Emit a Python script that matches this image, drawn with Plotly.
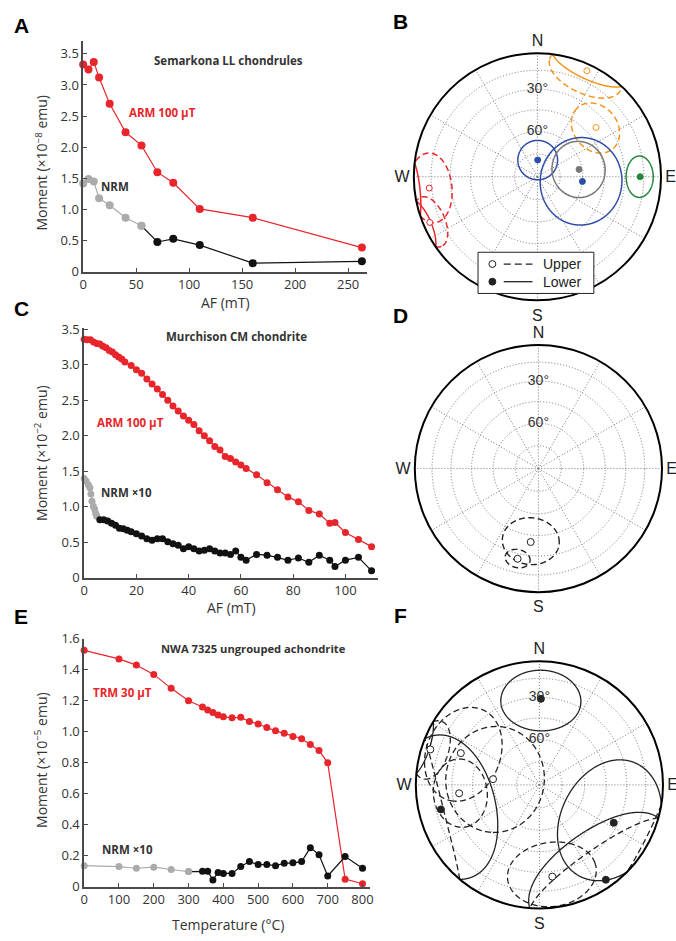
import numpy as np
import plotly.graph_objects as go

W, H = 676, 941
RED = '#E8252B'
GRAY = '#ABABAB'
BLACK = '#111111'
AXC = '#4a4a4a'
TXT = '#333333'
SANS = 'Open Sans'
HELV = 'Liberation Sans'

# ---------------- data ----------------
# A  Semarkona LL chondrules (AF step, mT ; moment x1e-8 emu)
a_af = [0, 5, 10, 15, 25, 40, 55, 70, 85, 110, 160, 263]
a_arm = [3.33, 3.25, 3.37, 3.12, 2.70, 2.24, 2.03, 1.60, 1.43, 1.01, 0.87, 0.39]
a_nrm = [1.42, 1.49, 1.45, 1.18, 1.07, 0.87, 0.74, 0.48, 0.53, 0.43, 0.14, 0.17]
a_nrm_lc = 7  # number of low-coercivity (gray) NRM steps

# C  Murchison CM chondrite (AF step, mT ; moment x1e-2 emu)
c_af_arm = [0, 1.2, 2.4, 3.6, 4.8, 6, 7.2, 8.4, 9.6, 10.8, 12, 13.2, 14.4, 15.6,
            18, 20, 22, 24, 26, 28, 30, 32, 34, 36, 38, 40, 42, 44, 46, 48, 50, 52, 54, 56, 58, 60,
            62, 66, 70, 74, 78, 82, 86, 90, 94, 96, 100, 105, 110]
c_arm = [3.36, 3.35, 3.35, 3.32, 3.30, 3.29, 3.26, 3.24, 3.20, 3.18, 3.14, 3.11, 3.08, 3.04,
         2.99, 2.93, 2.88, 2.80, 2.73, 2.66, 2.58, 2.50, 2.42, 2.35, 2.28, 2.22, 2.16, 2.07, 2.00,
         1.93, 1.85, 1.80, 1.71, 1.68, 1.63, 1.59,
         1.54, 1.45, 1.34, 1.24, 1.14, 1.07, 0.95, 0.90, 0.77, 0.78, 0.64, 0.54, 0.44]
c_af_nrm = [0, 0.8, 1.6, 2.2, 2.6, 3.0, 3.5, 4.0, 4.4, 4.8,
            6, 7.5, 9, 10.5, 12, 13.5, 15, 16.5,
            18, 20, 22, 24, 26, 28, 30, 32, 34, 36, 38, 40, 42, 44, 46, 48, 50, 52, 54, 56, 58, 60,
            62, 66, 70, 74, 78, 82, 86, 90, 94, 96, 100, 105, 110]
c_nrm = [1.40, 1.36, 1.31, 1.27, 1.18, 1.08, 1.01, 0.97, 0.91, 0.87,
         0.82, 0.82, 0.80, 0.77, 0.74, 0.70, 0.69, 0.67,
         0.65, 0.62, 0.59, 0.55, 0.53, 0.55, 0.55, 0.51, 0.48, 0.46, 0.41, 0.44, 0.41, 0.38, 0.39,
         0.41, 0.38, 0.35, 0.35, 0.33, 0.38, 0.29,
         0.25, 0.33, 0.32, 0.29, 0.25, 0.28, 0.22, 0.32, 0.25, 0.16, 0.25, 0.29, 0.10]
c_nrm_lc = 10

# E  NWA 7325 (thermal step, degC ; moment x1e-5 emu)
e_t_trm = [0, 100, 150, 200, 250, 300, 340, 355, 370, 385, 400, 425, 450, 475, 500, 525,
           550, 575, 600, 625, 650, 675, 700, 750, 800]
e_trm = [1.525, 1.47, 1.43, 1.37, 1.28, 1.20, 1.16, 1.14, 1.125, 1.108, 1.097, 1.09, 1.093,
         1.066, 1.05, 1.028, 1.006, 0.99, 0.97, 0.955, 0.918, 0.88, 0.80, 0.05, 0.02]
e_t_nrm = [0, 100, 150, 200, 250, 300, 340, 355, 370, 385, 400, 425, 450, 475, 500, 525,
           550, 575, 600, 625, 650, 675, 700, 750, 800]
e_nrm = [0.137, 0.131, 0.12, 0.127, 0.112, 0.099, 0.10, 0.10, 0.045, 0.093, 0.087, 0.087,
         0.131, 0.163, 0.144, 0.144, 0.137, 0.152, 0.155, 0.163, 0.253, 0.207, 0.07, 0.196, 0.12]
e_nrm_lc = 6

# B  stereonet: declination, inclination (neg = upper), alpha95, colour
b_dec = [25, 50, 1, 96, 80, 90, 264, 247]
b_inc = [-6, -38, 79, 60, 62, 18, -13, -6]
b_a95 = [19, 16, 13, 28, 18, 11, 18, 13]
b_col = ['#F7941D', '#F7941D', '#2E4DA7', '#2E4DA7', '#777777', '#23883C', '#E8252B', '#E8252B']

# D
d_dec = [186, 193]
d_inc = [-40, -26]
d_a95 = [17, 7]
d_col = ['#222222', '#222222']

# F
f_dec = [288, 292, 264, 277, 172, 1, 256, 117, 145]
f_inc = [-8, -32, -35, -59, -26, 31, 19, 33, 7]
f_a95 = [15, 28, 20, 34, 25, 23, 40, 37, 40]
f_col = ['#222222'] * 9

ring_incs = [15, 30, 45, 60, 75]

# ---------------- helpers ----------------
def fx(p):
    return p / W

def fy(p):
    return 1 - p / H

def eqarea(inc):
    return np.sqrt(2) * np.sin(np.radians(90 - np.abs(inc)) / 2)

def dir_vec(dec, inc):
    d, i = np.radians(dec), np.radians(inc)
    return np.array([np.cos(i) * np.cos(d), np.cos(i) * np.sin(d), np.sin(i)])

def small_circle(dec, inc, a95, n=720):
    v = dir_vec(dec, inc)
    tmp = np.array([0, 0, 1.0]) if abs(v[2]) < 0.9 else np.array([1.0, 0, 0])
    u1 = np.cross(v, tmp); u1 /= np.linalg.norm(u1)
    u2 = np.cross(v, u1)
    a = np.radians(a95)
    t = np.linspace(0, 2 * np.pi, n + 1)
    pts = np.cos(a) * v[None, :] + np.sin(a) * (np.cos(t)[:, None] * u1[None, :] + np.sin(t)[:, None] * u2[None, :])
    return pts

def split_hemi(pts):
    out = {True: [], False: []}
    cur = [pts[0]]
    low = pts[0][2] >= 0
    for p in pts[1:]:
        l2 = p[2] >= 0
        if l2 != low:
            prev = cur[-1]
            f = prev[2] / (prev[2] - p[2])
            c = prev + f * (p - prev); c = c / np.linalg.norm(c)
            cur.append(c)
            out[low].append(np.array(cur))
            cur = [c, p]
            low = l2
        else:
            cur.append(p)
    out[low].append(np.array(cur))
    return out

def to_polar(seglist):
    rr, tt = [], []
    for s in seglist:
        dec = np.degrees(np.arctan2(s[:, 1], s[:, 0])) % 360
        inc = np.degrees(np.arcsin(np.clip(s[:, 2], -1, 1)))
        rr += list(eqarea(inc)) + [None]
        tt += list(dec) + [None]
    return rr, tt

fig = go.Figure()

# ---------------- line panels ----------------
def line_panel(idx, xs_arm, ys_arm, xs_nrm, ys_nrm, n_lc, msize):
    xa = 'x' if idx == 1 else f'x{idx}'
    ya = 'y' if idx == 1 else f'y{idx}'
    fig.add_trace(go.Scatter(x=xs_arm, y=ys_arm, mode='lines+markers', xaxis=xa, yaxis=ya,
                             line=dict(color=RED, width=1.2), marker=dict(color=RED, size=msize),
                             cliponaxis=False, showlegend=False))
    fig.add_trace(go.Scatter(x=xs_nrm[:n_lc], y=ys_nrm[:n_lc], mode='lines+markers', xaxis=xa, yaxis=ya,
                             line=dict(color=GRAY, width=1.2), marker=dict(color=GRAY, size=msize),
                             cliponaxis=False, showlegend=False))
    cols = [GRAY] + [BLACK] * (len(xs_nrm) - n_lc)
    fig.add_trace(go.Scatter(x=xs_nrm[n_lc - 1:], y=ys_nrm[n_lc - 1:], mode='lines+markers', xaxis=xa, yaxis=ya,
                             line=dict(color=BLACK, width=1.2), marker=dict(color=cols, size=msize),
                             cliponaxis=False, showlegend=False))

line_panel(1, a_af, a_arm, a_af, a_nrm, a_nrm_lc, 8)
line_panel(2, c_af_arm, c_arm, c_af_nrm, c_nrm, c_nrm_lc, 7)
line_panel(3, e_t_trm, e_trm, e_t_nrm, e_nrm, e_nrm_lc, 7)

def axis_common():
    return dict(showline=True, linecolor=AXC, linewidth=1.5, ticks='inside', ticklen=4,
                tickcolor=AXC, tickwidth=1.2, showgrid=False, zeroline=False,
                tickfont=dict(family=SANS, size=13, color=TXT))

lay = {}
panels = [
    # x0, x1, ybottom, ytop, xrange, yrange, xticks, yticks
    (80, 367, 268, 33, [0, 268], [0, 3.7], [0, 50, 100, 150, 200, 250],
     [0, 0.5, 1, 1.5, 2, 2.5, 3, 3.5]),
    (81, 378, 580, 325, [0, 112.5], [0, 3.52], [0, 20, 40, 60, 80, 100],
     [0, 0.5, 1, 1.5, 2, 2.5, 3, 3.5]),
    (81, 370, 895, 642, [0, 822], [0, 1.6], [0, 100, 200, 300, 400, 500, 600, 700, 800],
     [0, 0.2, 0.4, 0.6, 0.8, 1.0, 1.2, 1.4, 1.6]),
]
for k, (x0, x1, yb, yt, xr, yr, xt, yt_) in enumerate(panels, start=1):
    xn = 'xaxis' if k == 1 else f'xaxis{k}'
    yn = 'yaxis' if k == 1 else f'yaxis{k}'
    xd = axis_common(); yd = axis_common()
    xd.update(domain=[fx(x0), fx(x1)], range=xr, tickvals=xt,
              anchor='y' if k == 1 else f'y{k}')
    ytext = ['0' if v == 0 else f'{v:.1f}' for v in yt_]
    yd.update(domain=[fy(yb), fy(yt)], range=yr, tickvals=yt_, ticktext=ytext,
              anchor='x' if k == 1 else f'x{k}')
    lay[xn] = xd
    lay[yn] = yd

# ---------------- stereonets ----------------
dash_up = '6px,3.5px'
def stereo(sub, decs, incs, a95s, cols, lw, msize):
    for dd, ii, aa, cc in zip(decs, incs, a95s, cols):
        segs = split_hemi(small_circle(dd, ii, aa))
        for lower, sl in segs.items():
            if not sl:
                continue
            rr, tt = to_polar(sl)
            fig.add_trace(go.Scatterpolar(r=rr, theta=tt, mode='lines', subplot=sub,
                                          line=dict(color=cc, width=lw, dash='solid' if lower else dash_up),
                                          connectgaps=False, showlegend=False, hoverinfo='skip'))
    for dd, ii, cc in zip(decs, incs, cols):
        fill = cc if ii >= 0 else 'white'
        fig.add_trace(go.Scatterpolar(r=[eqarea(ii)], theta=[dd], mode='markers', subplot=sub,
                                      marker=dict(size=msize, color=fill, line=dict(color=cc, width=1)),
                                      showlegend=False))
    fig.add_trace(go.Scatterpolar(r=[eqarea(30), eqarea(60)], theta=[0, 0], mode='text', subplot=sub,
                                  text=['30°', '60°'], textposition='middle center',
                                  textfont=dict(family=HELV, size=14, color='#333333'),
                                  showlegend=False, hoverinfo='skip'))

stereo('polar', b_dec, b_inc, b_a95, b_col, 1.5, 6)
stereo('polar2', d_dec, d_inc, d_a95, d_col, 1.4, 7)
stereo('polar3', f_dec, f_inc, f_a95, f_col, 1.3, 7)

cardinal = ['N', ' ', ' ', 'E', ' ', ' ', 'S', ' ', ' ', 'W', ' ', ' ']
def polar_layout(cx, cy, R):
    return dict(
        domain=dict(x=[fx(cx - R), fx(cx + R)], y=[fy(cy + R), fy(cy - R)]),
        bgcolor='white',
        radialaxis=dict(range=[0, 1], tickvals=[float(eqarea(i)) for i in ring_incs],
                        showticklabels=False, ticks='', showline=False,
                        gridcolor='#777777', griddash='1px,2px', gridwidth=1),
        angularaxis=dict(rotation=90, direction='clockwise', tickmode='array',
                         tickvals=list(range(0, 360, 30)), ticktext=cardinal,
                         showline=True, linecolor='black', linewidth=2, ticks='',
                         gridcolor='#777777', griddash='1px,2px', gridwidth=1,
                         tickfont=dict(family=HELV, size=16, color='#222222')),
    )

lay['polar'] = polar_layout(539, 171, 126)
lay['polar2'] = polar_layout(540, 468.5, 126)
lay['polar3'] = polar_layout(541, 791, 126)

# ---------------- annotations ----------------
anns = []
def ann(text, x, y, size, color=TXT, family=SANS, angle=0, xanchor='center'):
    anns.append(dict(text=text, x=fx(x), y=fy(y), xref='paper', yref='paper', showarrow=False,
                     xanchor=xanchor, yanchor='middle', textangle=angle,
                     font=dict(family=family, size=size, color=color)))

for lab, x, y in [('A', 17.5, 17), ('C', 18, 305), ('E', 17.5, 619),
                  ('B', 401, 13), ('D', 401, 312), ('F', 401, 618)]:
    ann(f'<b>{lab}</b>', x, y, 21, color='#000000', family=HELV)

ann('<b>Semarkona LL chondrules</b>', 227, 53, 11.5, TXT)
ann('<b>ARM 100 µT</b>', 160, 106, 11.5, RED)
ann('<b>NRM</b>', 112, 181, 11.5, TXT)
ann('<b>Murchison CM chondrite</b>', 235, 334, 11.5, TXT)
ann('<b>ARM 100 µT</b>', 128, 422, 11.5, RED)
ann('<b>NRM ×10</b>', 124, 493, 11.5, TXT)
ann('<b>NWA 7325 ungrouped achondrite</b>', 252, 652, 11.2, TXT)
ann('<b>TRM 30 µT</b>', 120, 697, 11.5, RED)
ann('<b>NRM ×10</b>', 125, 857, 11.5, TXT)

ann('Moment (×10<sup>−8</sup> emu)', 38, 157, 14, TXT, angle=-90)
ann('Moment (×10<sup>−2</sup> emu)', 38, 453, 14, TXT, angle=-90)
ann('Moment (×10<sup>−5</sup> emu)', 38, 766, 14, TXT, angle=-90)
ann('AF (mT)', 224, 299, 14, TXT)
ann('AF (mT)', 230, 610, 14, TXT)
ann('Temperature (°C)', 226, 933, 14, TXT)

ann('Upper', 543, 260, 14, '#222222', family=HELV, xanchor='left')
ann('Lower', 543, 278, 14, '#222222', family=HELV, xanchor='left')

shapes = [
    dict(type='rect', xref='paper', yref='paper', x0=fx(479), x1=fx(596), y0=fy(290), y1=fy(248),
         line=dict(color='#222222', width=1), fillcolor='white', layer='above'),
    dict(type='line', xref='paper', yref='paper', x0=fx(505), x1=fx(534), y0=fy(260), y1=fy(260),
         line=dict(color='#222222', width=1.3, dash='7px,4px'), layer='above'),
    dict(type='line', xref='paper', yref='paper', x0=fx(505), x1=fx(534), y0=fy(278), y1=fy(278),
         line=dict(color='#222222', width=1.3), layer='above'),
    dict(type='circle', xref='paper', yref='paper', x0=fx(490), x1=fx(497), y0=fy(263.5), y1=fy(256.5),
         line=dict(color='#222222', width=1), fillcolor='white', layer='above'),
    dict(type='circle', xref='paper', yref='paper', x0=fx(490), x1=fx(497), y0=fy(281.5), y1=fy(274.5),
         line=dict(color='#222222', width=1), fillcolor='#222222', layer='above'),
]

fig.update_layout(width=W, height=H, margin=dict(l=0, r=0, t=0, b=0), autosize=False,
                  paper_bgcolor='white', plot_bgcolor='white', showlegend=False,
                  annotations=anns, shapes=shapes, **lay)

fig.write_html('out.html')
